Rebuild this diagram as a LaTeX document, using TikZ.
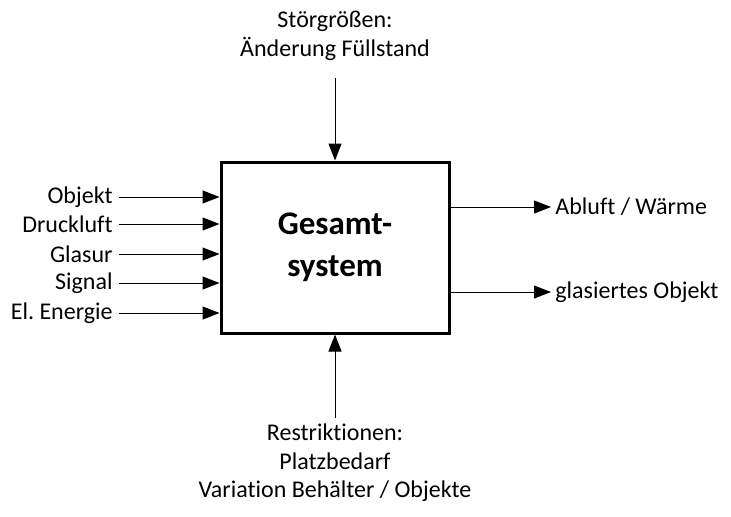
\documentclass[tikz,border=0pt]{standalone}
\usepackage{fontspec}
\setmainfont{Carlito}[Ligatures=NoCommon]
\frenchspacing
\usetikzlibrary{arrows.meta, positioning}

\tikzset{
  flow/.style={-{Triangle[length=8.5pt, width=6.5pt]}, line width=0.5pt},
  lbl/.style={inner sep=0pt, font=\fontsize{12}{14.3}\selectfont, align=center},
  sysbox/.style={draw, line width=1.5pt, minimum width=114pt, minimum height=85.5pt,
    font=\fontsize{16.5}{20.8}\selectfont\bfseries, align=center}
}

\begin{document}
\begin{tikzpicture}[x=0.5pt, y=-0.5pt]
  \useasboundingbox (0,0) rectangle (731,516);

  % Gesamtsystem
  \node[sysbox] (sys) at (335,247.5) {Gesamt-\\system};

  % Eingaenge links
  \node[lbl, anchor=east, inner xsep=3pt] (obj)  at (119,197) {Objekt};
  \node[lbl, anchor=east, inner xsep=3pt] (luft) at (119,224) {Druckluft};
  \node[lbl, anchor=east, inner xsep=3pt] (gla)  at (119,254) {Glasur};
  \node[lbl, anchor=east, inner xsep=3pt] (sig)  at (119,283) {Signal};
  \node[lbl, anchor=east, inner xsep=3pt] (ene)  at (119,313) {El. Energie};

  \foreach \n in {obj, luft, gla, sig, ene}
    \draw[flow] (\n.east) -- (\n.east -| sys.west);

  % Ausgaenge rechts
  \node[lbl, anchor=west, inner xsep=2pt] (abl) at (551,207) {Abluft / Wärme};
  \node[lbl, anchor=west, inner xsep=2pt] (gob) at (551,292) {glasiertes Objekt};

  \draw[flow] (abl.west -| sys.east) -- (abl.west);
  \draw[flow] (gob.west -| sys.east) -- (gob.west);

  % Stoergroessen und Restriktionen
  \node[lbl] (stoer) at (335,36) {Störgrößen:\\Änderung Füllstand};
  \coordinate (stoerend) at (335,78);
  \draw[flow] (stoerend) -- (sys.north);

  \node[lbl] (restr) at (335,463) {Restriktionen:\\Platzbedarf\\Variation Behälter / Objekte};
  \coordinate (restrend) at (335,418);
  \draw[flow] (restrend) -- (sys.south);
\end{tikzpicture}
\end{document}
